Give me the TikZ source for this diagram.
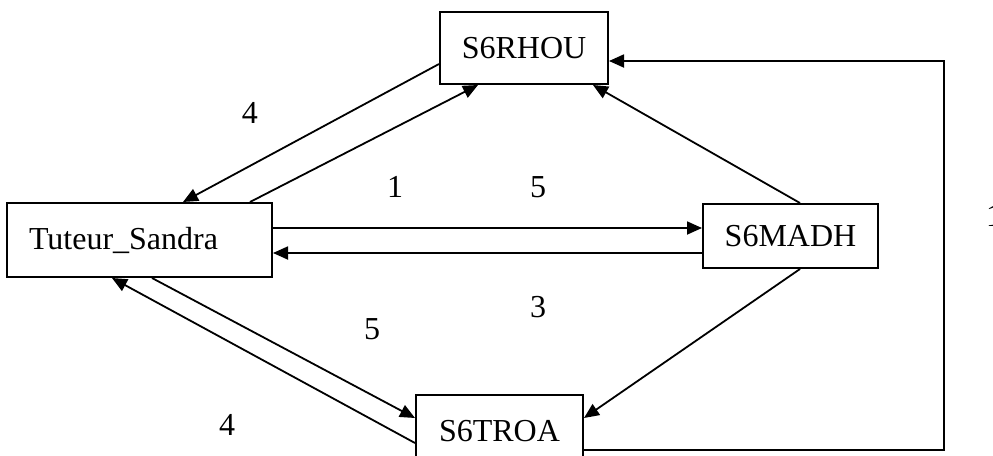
\documentclass[tikz,border=0pt]{standalone}
\usepackage{fontspec}
\setmainfont{Liberation Serif}
\usetikzlibrary{calc,arrows.meta}
\begin{document}
\begin{tikzpicture}[x=0.5pt,y=-0.5pt,
  box/.style={draw,line width=1pt,inner sep=0pt,font=\fontsize{16}{19}\selectfont},
  lbl/.style={inner sep=0pt,font=\fontsize{16}{19}\selectfont},
  conn/.style={line width=0.9pt,-{Triangle[length=7.5pt,width=6.5pt]}},
  plain/.style={line width=0.9pt}]
\useasboundingbox (0,0) rectangle (993,456);
\clip (0,0) rectangle (993,456);
\node[box,minimum width=84pt,minimum height=36pt] (r) at (524,48) {S6RHOU};
\node[box,minimum width=132.5pt,minimum height=37pt,inner xsep=11pt,text width=110.5pt,align=left] (t) at (139.5,240) {Tuteur\_Sandra};
\node[box,minimum width=87.5pt,minimum height=32pt] (m) at (790.5,236) {S6MADH};
\node[box,minimum width=83.5pt,minimum height=36pt] (s) at (499.5,431) {S6TROA};
\coordinate (c) at (944,61);
\draw[conn] ($(r.west)+(0,16)$) -- ($(t.north)+(43.5,0)$);
\draw[conn] ($(t.north)+(110.5,0)$) -- ($(r.south)+(-46,0)$);
\draw[conn] ($(m.north)+(9.5,0)$) -- ($(r.south)+(69,0)$);
\draw[conn] ($(t.east)+(0,-12)$) -- ($(m.west)+(0,-8)$);
\draw[conn] ($(m.west)+(0,17)$) -- ($(t.east)+(0,13)$);
\draw[conn] ($(m.south)+(9.5,0)$) -- ($(s.east)+(0,-13)$);
\draw[conn] ($(t.south)+(12.5,0)$) -- ($(s.west)+(0,-13)$);
\draw[conn] ($(s.west)+(0,12)$) -- ($(t.south)+(-27.5,0)$);
\draw[conn] ($(s.east)+(0,19)$) -| (c) -- ($(r.east)+(0,13)$);
\node[lbl] (l1) at (250,113) {4};
\node[lbl] (l2) at (395,187) {1};
\node[lbl] (l3) at (538,187) {5};
\node[lbl] (l4) at (372,329) {5};
\node[lbl] (l5) at (538,307) {3};
\node[lbl] (l6) at (227,425) {4};
\node[lbl] (l7) at (994,216) {1};
\end{tikzpicture}
\end{document}
